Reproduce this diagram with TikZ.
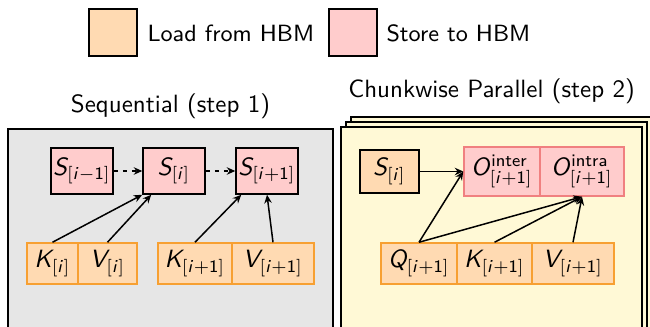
\documentclass[tikz,border=0pt]{standalone}
\usepackage{amsmath}
\usetikzlibrary{arrows.meta,calc}

% sans-serif slanted letters for the math labels
\DeclareMathAlphabet{\mathsfit}{OT1}{cmss}{m}{sl}
\newcommand\mv[1]{\mathsfit{#1}}
\newcommand\ix{\mathsf{[}\mathsfit{i}\mathsf{]}}
\newcommand\ixp{\mathsf{[}\mathsfit{i}+\mathsf{1]}}
\newcommand\ixm{\mathsf{[}\mathsfit{i}-\mathsf{1]}}

\definecolor{loadfill}{RGB}{255,218,178}
\definecolor{loaddraw}{RGB}{247,160,50}
\definecolor{storefill}{RGB}{255,204,204}
\definecolor{storedraw}{RGB}{240,128,128}
\definecolor{seqbg}{RGB}{230,230,230}
\definecolor{parbg}{RGB}{255,249,214}

\tikzset{
  cell/.style={draw, line width=0.6pt, inner sep=0pt, anchor=center},
  storecell/.style={cell, fill=storefill, draw=black},
  outcell/.style={cell, fill=storefill, draw=storedraw},
  loadcell/.style={cell, fill=loadfill, draw=loaddraw},
  statecell/.style={cell, fill=loadfill, draw=black},
  panel/.style={line width=0.8pt, draw=black},
  arr/.style={-{Stealth[length=3.4pt,width=3pt]}, line width=0.6pt},
  dasharr/.style={arr, dash pattern=on 1.8pt off 1.8pt},
  legendtext/.style={anchor=base west, font=\sffamily\fontsize{9.4}{11}\selectfont, inner sep=0pt},
  title/.style={anchor=base, inner sep=0pt},
}

\begin{document}
\begin{tikzpicture}[x=0.4pt, y=-0.4pt, font=\sffamily]
\useasboundingbox (0,0) rectangle (650,326);
\clip (0,0) rectangle (650,326);

% legend
\node[statecell, minimum width=19.2pt, minimum height=18.8pt] (legload) at (113,32.5) {};
\node[legendtext] (legloadtxt) at (147,42) {Load from HBM};
\node[storecell, minimum width=19.2pt, minimum height=18.8pt] (legstore) at (353,32.5) {};
\node[legendtext] (legstoretxt) at (386,42) {Store to HBM};

% titles
\node[title] (seqtitle) at (170.5,112) {Sequential (step 1)};
\node[title] (partitle) at (491.5,97) {Chunkwise Parallel (step 2)};

% panels
\draw[panel, fill=seqbg] (8,129) rectangle (333,345);
\draw[panel, fill=parbg] (351,117) rectangle (652,345);
\draw[panel, fill=parbg] (346,122) rectangle (647,345);
\draw[panel, fill=parbg] (341,127) rectangle (642,345);

% sequential step: states
\node[storecell, minimum width=24.8pt, minimum height=18.4pt] (Sim1) at (82,171) {$\mv{S}_{\ixm}$};
\node[storecell, minimum width=24.8pt, minimum height=18.4pt] (Si) at (174,171) {$\mv{S}_{\ix}$};
\node[storecell, minimum width=24.8pt, minimum height=18.4pt] (Sip1) at (267,171) {$\mv{S}_{\ixp}$};

% sequential step: keys and values
\node[loadcell, minimum width=20.4pt, minimum height=16.4pt] (Ki) at (52.5,263.5) {$\mv{K}_{\ix}$};
\node[loadcell, minimum width=23.6pt, minimum height=16.4pt] (Vi) at (107.5,263.5) {$\mv{V}_{\ix}$};
\node[loadcell, minimum width=29.6pt, minimum height=16.4pt] (Kip1) at (195,263.5) {$\mv{K}_{\ixp}$};
\node[loadcell, minimum width=32.8pt, minimum height=16.4pt] (Vip1) at (273,263.5) {$\mv{V}_{\ixp}$};

\draw[dasharr] (Sim1) -- (Si);
\draw[dasharr] (Si) -- (Sip1);
\draw[arr] (Ki.north) -- (Si.south west);
\draw[arr] (Vi.north) -- ($(Si.south west)+(9,0)$);
\draw[arr] (Kip1.north) -- ($(Sip1.south west)+(6,0)$);
\draw[arr] (Vip1.north) -- (Sip1.south);

% chunkwise parallel step
\node[statecell, minimum width=23.6pt, minimum height=17.2pt] (Sr) at (389.5,171.5) {$\mv{S}_{\ix}$};
\node[outcell, minimum width=30.4pt, minimum height=19.6pt] (Oint) at (502,171.5) {$\mv{O}^{\text{inter}}_{\ixp}$};
\node[outcell, minimum width=33.6pt, minimum height=19.6pt] (Ointra) at (582,171.5) {$\mv{O}^{\text{intra}}_{\ixp}$};

\node[loadcell, minimum width=30.4pt, minimum height=16.4pt] (Q) at (419,263.5) {$\mv{Q}_{\ixp}$};
\node[loadcell, minimum width=30pt, minimum height=16.4pt] (K) at (494.5,263.5) {$\mv{K}_{\ixp}$};
\node[loadcell, minimum width=32.8pt, minimum height=16.4pt] (V) at (573,263.5) {$\mv{V}_{\ixp}$};

\draw[arr] (Sr) -- (Oint);
\draw[arr] (Q.north) -- (Oint.west);
\draw[arr] (Q.north) -- (Ointra.south);
\draw[arr] (K.north) -- (Ointra.south);
\draw[arr] (V.north) -- (Ointra.south);
\end{tikzpicture}
\end{document}
